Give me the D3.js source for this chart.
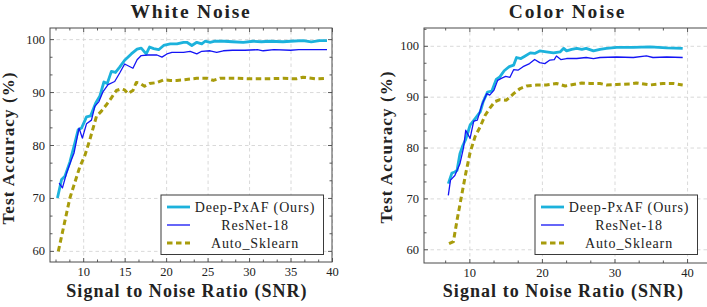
<!DOCTYPE html>
<html lang="en">
<head>
    <meta charset="UTF-8">
    <title>White / Color Noise accuracy</title>
    <script src="https://cdn.jsdelivr.net/npm/d3@7"></script>
    <style>
        body { margin: 0; background: #fff; }
        text { font-family: "Liberation Serif", "Times New Roman", serif; fill: #222; }
    </style>
</head>
<body>
    <div id="chart"></div>
    <script>
        // series names (legend order)
        var seriesNames = ["Deep-PxAF (Ours)", "ResNet-18", "Auto_Sklearn"];

        // White Noise, [SNR, accuracy]
        var whiteDeep = [[6.9,70.0],[7.4,73.5],[7.8,74.1],[8.4,76.8],[9.0,80.4],[9.4,82.9],[9.8,83.2],[10.4,85.3],[10.9,85.5],
            [11.5,87.9],[12.0,89.2],[12.5,91.9],[12.9,91.6],[13.4,93.9],[13.9,93.7],[14.4,94.7],[15.0,96.0],[15.8,97.2],
            [16.5,98.1],[17.0,98.3],[17.6,97.2],[18.0,98.5],[18.5,98.2],[19.1,98.0],[19.7,98.8],[20.5,99.1],[21.3,99.1],
            [22.1,99.4],[22.5,99.4],[23.1,98.8],[23.7,99.4],[24.3,99.1],[24.7,99.6],[25.3,99.4],[25.9,99.6],[27.0,99.6],
            [28.0,99.5],[29.3,99.4],[30.5,99.6],[31.5,99.5],[32.5,99.6],[34.1,99.5],[35.0,99.6],[36.5,99.7],[37.5,99.5],
            [38.5,99.7],[39.4,99.7]];
        var whiteResNet = [[7.1,72.8],[7.5,71.9],[8.0,74.7],[8.5,76.9],[8.9,78.5],[9.5,83.2],[9.9,81.3],[10.4,84.0],[11.0,84.7],
            [11.4,87.3],[11.9,88.2],[12.4,90.1],[13.0,91.4],[13.8,92.0],[14.4,93.6],[15.0,95.3],[16.0,94.5],[16.5,96.1],
            [17.0,96.9],[17.8,97.0],[18.9,97.0],[19.5,96.6],[20.1,97.2],[20.7,97.5],[22.1,97.5],[22.9,97.7],[23.7,97.2],
            [24.3,97.7],[25.3,97.8],[26.1,97.5],[26.9,97.8],[28.0,97.9],[29.5,97.9],[31.0,98.0],[31.7,97.8],[33.0,98.0],
            [35.0,97.9],[36.0,98.0],[38.0,98.0],[39.4,98.0]];
        var whiteAuto = [[7.0,59.9],[8.4,70.0],[9.6,75.9],[10.2,78.0],[10.8,81.0],[11.6,85.4],[12.2,86.4],[12.8,87.6],[13.4,88.9],
            [14.0,90.3],[14.6,90.6],[15.0,90.4],[15.4,89.7],[16.0,90.3],[16.4,91.8],[16.8,91.7],[17.4,91.1],[18.0,91.6],
            [18.9,91.8],[19.7,92.3],[20.5,92.2],[21.3,92.2],[22.1,92.3],[23.7,92.6],[24.9,92.6],[25.7,92.2],[26.5,92.6],
            [28.5,92.6],[30.1,92.5],[31.7,92.5],[34.1,92.6],[35.7,92.5],[36.5,92.8],[38.1,92.5],[39.3,92.6]];

        // Color Noise, [SNR, accuracy]
        var colorDeep = [[7.1,72.9],[7.6,75.0],[8.0,75.2],[8.3,75.5],[8.7,78.8],[9.1,80.4],[9.5,81.6],[10.1,84.4],[10.8,85.7],
            [11.5,87.0],[11.9,89.0],[12.5,90.9],[13.1,91.1],[13.7,93.4],[14.2,93.9],[14.8,95.1],[15.5,95.9],[16.1,96.2],
            [16.5,97.7],[17.1,97.5],[17.7,98.0],[18.4,98.6],[19.0,98.5],[19.7,99.0],[20.6,98.8],[21.6,98.6],[22.5,98.8],
            [23.0,99.5],[23.4,99.0],[24.1,99.3],[24.8,99.5],[25.5,99.3],[26.1,99.5],[27.1,99.0],[28.0,99.3],[28.9,99.5],
            [30.3,99.7],[32.6,99.7],[34.9,99.8],[37.2,99.6],[39.4,99.5]];
        var colorResNet = [[7.1,70.6],[7.4,73.6],[8.0,74.5],[8.7,76.8],[9.2,80.0],[9.5,83.4],[10.1,81.8],[10.6,85.2],[11.1,85.4],
            [11.7,88.3],[12.4,90.6],[12.8,90.3],[13.4,91.3],[13.9,93.2],[14.4,93.6],[15.0,94.0],[15.6,93.8],[16.1,95.3],
            [16.7,95.2],[17.4,95.9],[18.3,96.5],[19.0,97.3],[19.7,96.7],[20.4,96.5],[21.1,97.2],[21.7,97.3],[22.0,98.0],
            [22.6,97.3],[23.4,97.5],[24.8,97.5],[26.1,97.7],[27.1,97.5],[28.0,97.7],[30.3,97.8],[32.6,97.7],[34.4,98.0],
            [35.3,97.7],[37.2,97.8],[39.4,97.7]];
        var colorAuto = [[7.2,61.1],[7.8,61.5],[8.3,65.7],[8.9,70.3],[9.5,74.9],[10.1,79.0],[10.8,82.2],[11.5,84.1],[12.2,86.4],
            [12.8,87.7],[13.5,89.0],[14.2,89.4],[15.1,89.3],[16.1,90.6],[17.0,91.6],[17.9,92.1],[19.3,92.3],[20.6,92.3],
            [22.0,92.6],[23.2,92.1],[24.3,92.4],[25.5,92.7],[26.6,92.6],[28.0,92.6],[28.9,92.3],[30.3,92.4],[32.1,92.5],
            [33.0,92.7],[34.9,92.3],[36.7,92.6],[38.1,92.6],[39.4,92.3]];

        // tick values
        var yTicks = [60, 70, 80, 90, 100];
        var whiteXTicks = [10, 15, 20, 25, 30, 35, 40];
        var colorXTicks = [10, 20, 30, 40];

        var width = 707, height = 307;
        var colors = ["#1cb2dc", "#1414f5", "#a89c0c"];
        var widths = [2.8, 1.3, 3];
        var dashes = [null, null, "5.5,3.5"];

        var svg = d3.select("#chart").append("svg")
            .attr("width", width).attr("height", height);

        function minorTicks(domain, step, majors) {
            var out = [];
            var start = Math.ceil(domain[0] / step - 1e-6);
            for (var k = start; k * step <= domain[1] + 1e-6; k++) {
                var v = +(k * step).toFixed(4);
                if (majors.every(function(m){ return Math.abs(m - v) > 1e-3; })) out.push(v);
            }
            return out;
        }

        function drawPanel(p) {
            var x = d3.scaleLinear().domain(p.xDomain).range([p.left, p.right]);
            var y = d3.scaleLinear().domain(p.yDomain).range([p.bottom, p.top]);
            var w = p.right - p.left, h = p.bottom - p.top;
            var g = svg.append("g");

            // grid
            g.append("g").attr("transform", "translate(0," + p.bottom + ")")
                .call(d3.axisBottom(x).tickValues(p.xTicks).tickSize(-h).tickFormat(""))
                .call(function(s){ s.select(".domain").remove(); });
            g.append("g").attr("transform", "translate(" + p.left + ",0)")
                .call(d3.axisLeft(y).tickValues(yTicks).tickSize(-w).tickFormat(""))
                .call(function(s){ s.select(".domain").remove(); });
            g.selectAll(".tick line").attr("stroke", "#cfcfcf").attr("stroke-width", 0.8)
                .attr("stroke-dasharray", "3.5,3");

            // series
            var line = d3.line().x(function(d){ return x(d[0]); }).y(function(d){ return y(d[1]); });
            p.series.forEach(function(data, i) {
                g.append("path").attr("d", line(data))
                    .attr("fill", "none").attr("stroke", colors[i])
                    .attr("stroke-width", widths[i])
                    .attr("stroke-linejoin", "round")
                    .attr("stroke-dasharray", dashes[i]);
            });

            // frame
            g.append("rect").attr("x", p.left).attr("y", p.top).attr("width", w).attr("height", h)
                .attr("fill", "none").attr("stroke", "#4a4a4a").attr("stroke-width", 1);

            // ticks, inside on all four sides
            var xMinor = minorTicks(p.xDomain, p.xMinorStep, p.xTicks);
            var yMinor = minorTicks(p.yDomain, 10 / 3, yTicks);
            var axes = g.append("g").attr("class", "axes");
            axes.append("g").attr("transform", "translate(0," + p.bottom + ")")
                .call(d3.axisBottom(x).tickValues(p.xTicks).tickSize(-4).tickPadding(5));
            axes.append("g").attr("transform", "translate(0," + p.bottom + ")")
                .call(d3.axisBottom(x).tickValues(xMinor).tickSize(-2.5).tickFormat(""));
            axes.append("g").attr("transform", "translate(0," + p.top + ")")
                .call(d3.axisTop(x).tickValues(p.xTicks).tickSize(-4).tickFormat(""));
            axes.append("g").attr("transform", "translate(0," + p.top + ")")
                .call(d3.axisTop(x).tickValues(xMinor).tickSize(-2.5).tickFormat(""));
            axes.append("g").attr("transform", "translate(" + p.left + ",0)")
                .call(d3.axisLeft(y).tickValues(yTicks).tickSize(-4).tickPadding(5));
            axes.append("g").attr("transform", "translate(" + p.left + ",0)")
                .call(d3.axisLeft(y).tickValues(yMinor).tickSize(-2.5).tickFormat(""));
            axes.append("g").attr("transform", "translate(" + p.right + ",0)")
                .call(d3.axisRight(y).tickValues(yTicks).tickSize(-4).tickFormat(""));
            axes.append("g").attr("transform", "translate(" + p.right + ",0)")
                .call(d3.axisRight(y).tickValues(yMinor).tickSize(-2.5).tickFormat(""));
            axes.selectAll(".domain").remove();
            axes.selectAll(".tick line").attr("stroke", "#4a4a4a").attr("stroke-width", 0.9);
            axes.selectAll("text").attr("font-size", "12.5px").attr("font-family", "Liberation Serif").attr("fill", "#222");

            // title and axis labels
            g.append("text").attr("x", (p.left + p.right) / 2).attr("y", 17.5)
                .attr("text-anchor", "middle").attr("font-weight", "bold")
                .attr("font-size", "19.5px").attr("letter-spacing", "1.8px").text(p.title);
            g.append("text").attr("x", (p.left + p.right) / 2 - 4).attr("y", 297)
                .attr("text-anchor", "middle").attr("font-weight", "bold")
                .attr("font-size", "18px").attr("letter-spacing", "1.05px").text("Signal to Noise Ratio (SNR)");
            g.append("text").attr("transform", "translate(" + p.yLabelX + "," + p.yLabelY + ") rotate(-90)")
                .attr("text-anchor", "middle").attr("font-weight", "bold")
                .attr("font-size", "17px").attr("letter-spacing", "1.1px").text("Test Accuracy (%)");

            // legend
            var lg = g.append("g").attr("transform", "translate(" + p.legendX + ",195)");
            lg.append("rect").attr("width", 162.5).attr("height", 59.5)
                .attr("fill", "#fff").attr("stroke", "#3a3a3a").attr("stroke-width", 1);
            seriesNames.forEach(function(name, i) {
                var cy = 12 + i * 18;
                lg.append("line").attr("x1", 6).attr("x2", 29).attr("y1", cy).attr("y2", cy)
                    .attr("stroke", colors[i]).attr("stroke-width", widths[i])
                    .attr("stroke-dasharray", dashes[i]);
                lg.append("text").attr("x", 94).attr("y", cy + 4.6)
                    .attr("text-anchor", "middle").attr("font-size", "14px")
                    .attr("letter-spacing", "0.85px").text(name);
            });
        }

        drawPanel({
            title: "White Noise", left: 50, right: 332, top: 28, bottom: 262,
            xDomain: [6, 40], yDomain: [57.9, 102.1], xTicks: whiteXTicks, xMinorStep: 5 / 3,
            series: [whiteDeep, whiteResNet, whiteAuto],
            yLabelX: 14, yLabelY: 148, legendX: 161
        });
        drawPanel({
            title: "Color Noise", left: 424, right: 711, top: 28, bottom: 263,
            xDomain: [3.75, 43.3], yDomain: [57.3, 103.5], xTicks: colorXTicks, xMinorStep: 10 / 3,
            series: [colorDeep, colorResNet, colorAuto],
            yLabelX: 392, yLabelY: 147, legendX: 535
        });
    </script>
</body>
</html>
